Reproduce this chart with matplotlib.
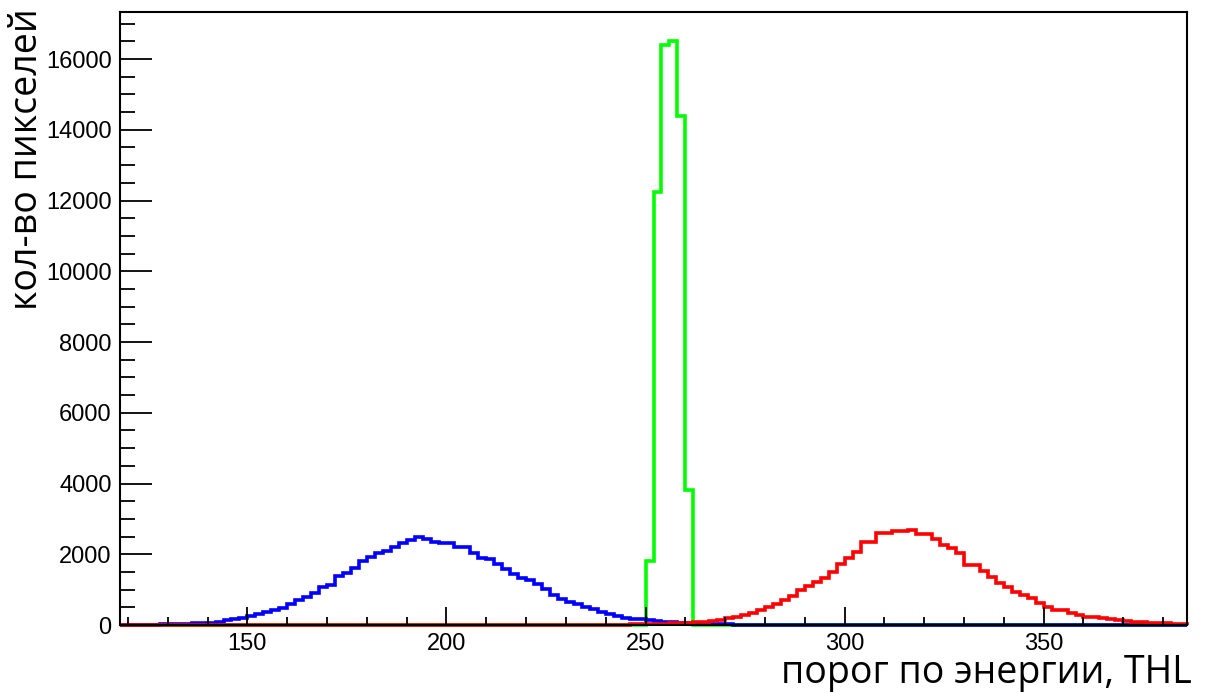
import numpy as np
import matplotlib
matplotlib.use("Agg")
import matplotlib.pyplot as plt
from matplotlib.ticker import MultipleLocator

# THL binning: 2 units per bin, 118..386
thl_start = 118
thl_end = 386
bin_width = 2

# green (narrow peak), only the non-empty bins
green_bins = [250, 252, 254, 256, 258, 260]
green_counts = [1810, 12240, 16400, 16510, 14390, 3820]

# blue, one value per bin from 118 on (zero after)
blue_counts = [5, 5, 8, 10, 12, 15, 25, 30, 40, 50,
               60, 70, 80, 130, 175, 205, 265, 315, 360, 415,
               470, 590, 700, 800, 914, 1065, 1130, 1394, 1479, 1600,
               1810, 1912, 2025, 2100, 2213, 2326, 2400, 2490, 2420, 2335,
               2330, 2320, 2210, 2200, 2044, 1903, 1856, 1724, 1573, 1441,
               1319, 1262, 1149, 1017, 848, 735, 659, 584, 509, 443,
               377, 320, 264, 207, 179, 160, 130, 105, 90, 75,
               60, 50, 42, 35, 28, 22, 18, 14, 11, 9,
               7, 5, 4, 3, 2, 2, 1]

# red, one value per bin starting at 236 (zero before)
red_first_bin = 236
red_counts = [2, 3, 5, 8, 12, 16, 20, 26, 32, 40,
              48, 58, 66, 75, 94, 122, 150, 188, 235, 283,
              349, 420, 510, 605, 710, 830, 990, 1100, 1225, 1320,
              1510, 1720, 1890, 2073, 2356, 2356, 2590, 2590, 2660, 2660,
              2680, 2563, 2563, 2422, 2261, 2167, 2026, 1696, 1696, 1536,
              1366, 1178, 1065, 942, 848, 754, 631, 518, 424, 424,
              330, 283, 240, 215, 190, 170, 140, 115, 95, 85,
              66, 57, 45, 35, 25]

edges = np.arange(thl_start, thl_end + bin_width, bin_width)
nbins = len(edges) - 1


def fill(first_bin, counts):
    h = np.zeros(nbins)
    i0 = (first_bin - thl_start) // bin_width
    h[i0:i0 + len(counts)] = counts
    return h


green_full = np.zeros(nbins)
for b, c in zip(green_bins, green_counts):
    green_full[(b - thl_start) // bin_width] = c
blue_full = fill(thl_start, blue_counts)
red_full = fill(red_first_bin, red_counts)

plt.rcParams['font.family'] = ['Liberation Sans', 'DejaVu Sans']

fig = plt.figure(figsize=(12.05, 6.93), dpi=100)
ax = fig.add_axes([120/1205, 68/693, 1067/1205, 613/693])

lw = 2.6
ax.stairs(green_full, edges, color=(0, 1, 0), lw=lw, baseline=0, clip_on=False)
ax.stairs(blue_full, edges, color=(0, 0, 1), lw=lw, baseline=0, clip_on=False)
ax.stairs(red_full, edges, color=(1, 0, 0), lw=lw, baseline=0, clip_on=False)

ax.set_xlim(thl_start, thl_end)
ax.set_ylim(0, 17330)

ax.xaxis.set_major_locator(MultipleLocator(50))
ax.xaxis.set_minor_locator(MultipleLocator(10))
ax.yaxis.set_major_locator(MultipleLocator(2000))
ax.yaxis.set_minor_locator(MultipleLocator(500))

ax.tick_params(axis='x', which='major', direction='in', length=13, width=1.3,
               labelsize=17, pad=6)
ax.tick_params(axis='x', which='minor', direction='in', length=6, width=1.3)
ax.tick_params(axis='y', which='major', direction='in', length=23, width=1.3,
               labelsize=17, pad=6)
ax.tick_params(axis='y', which='minor', direction='in', length=11, width=1.3)

for s in ax.spines.values():
    s.set_linewidth(1.5)

fig.text(1192/1205, 1/693, 'порог по энергии, THL', ha='right', va='bottom',
         fontsize=27, family=['Open Sans', 'DejaVu Sans'])
fig.text(8/1205, 1 - 8/693, 'кол-во пикселей', ha='left', va='top',
         rotation=90, fontsize=27, family=['Open Sans', 'DejaVu Sans'])

fig.savefig('out.png', dpi=100)
